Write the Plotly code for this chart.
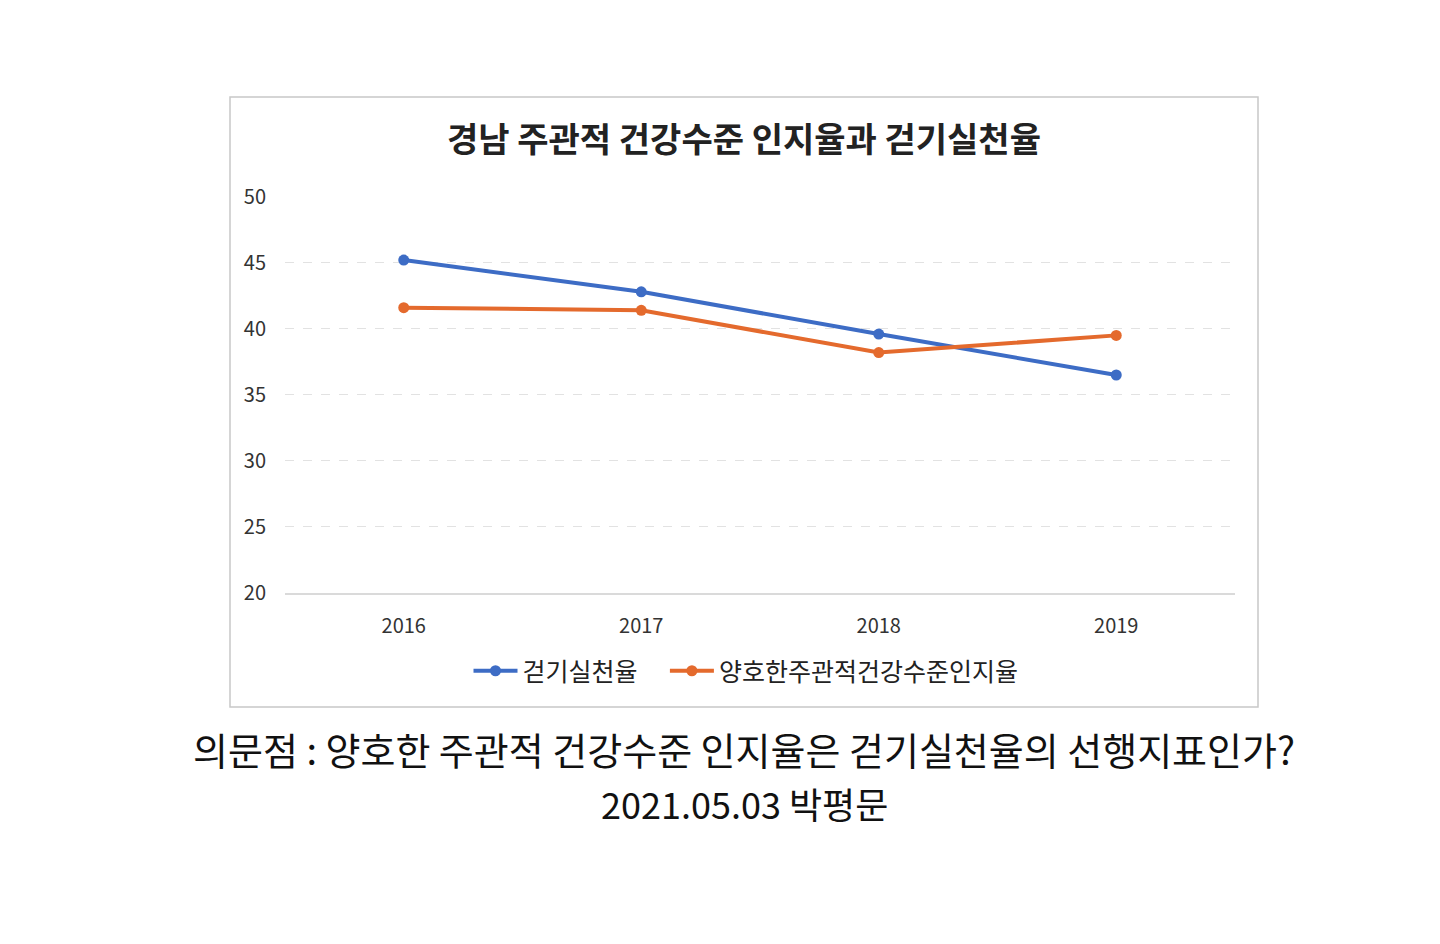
import plotly.graph_objects as go

# 경남 지표 (단위: %)
years = ["2016", "2017", "2018", "2019"]
walking_rate = [45.2, 42.8, 39.6, 36.5]
health_awareness = [41.6, 41.4, 38.2, 39.5]
y_ticks = [20, 25, 30, 35, 40, 45, 50]

title_text = "경남 주관적 건강수준 인지율과 걷기실천율"
caption_lines = ["의문점 : 양호한 주관적 건강수준 인지율은 걷기실천율의 선행지표인가?",
                 "2021.05.03 박평문"]

W, H = 1440, 944
off = 8  # page body margin
# plot area in page pixels
pl, pr, pt, pb = 285, 1235, 196, 593

def px(x):
    return (x - pl) / (pr - pl)

def py(y):
    return (pb - y) / (pb - pt)

font_kr = "Noto Sans CJK KR, Noto Sans, sans-serif"
gap = "\u00a0" * 4  # extra room between legend items

fig = go.Figure()
fig.add_trace(go.Scatter(x=years, y=walking_rate, name="걷기실천율" + gap,
                         mode="lines+markers",
                         line=dict(color="#3D6CC5", width=4),
                         marker=dict(size=11, color="#3D6CC5")))
fig.add_trace(go.Scatter(x=years, y=health_awareness, name="양호한주관적건강수준인지율",
                         mode="lines+markers",
                         line=dict(color="#E46A2D", width=4),
                         marker=dict(size=11, color="#E46A2D")))

fig.update_layout(
    width=W, height=H,
    margin=dict(l=pl - off, r=W - (pr - off), t=pt - off, b=H - (pb - off)),
    paper_bgcolor="white", plot_bgcolor="white",
    font=dict(family=font_kr, color="#333333"),
    showlegend=True,
    legend=dict(orientation="h", x=px(746), xanchor="center",
                y=py(671), yanchor="middle",
                font=dict(size=25, color="#222222"),
                itemwidth=44),
)
fig.update_xaxes(type="category", range=[-0.5, 3.5], showgrid=False,
                 showline=True, linecolor="#DADADA", linewidth=1.5,
                 zeroline=False, ticks="",
                 ticklabelstandoff=14,
                 tickfont=dict(size=20, color="#333333"))
fig.update_yaxes(range=[20, 50.05], tickvals=y_ticks, showgrid=True,
                 gridcolor="#E2E2E2", griddash="dash", gridwidth=1,
                 zeroline=False, showline=False, ticks="",
                 ticklabelstandoff=18,
                 tickfont=dict(size=20, color="#333333"))

# chart frame
fig.add_shape(type="rect", xref="paper", yref="paper",
              x0=px(230), x1=px(1258), y0=py(707), y1=py(97),
              line=dict(color="#C8C8C8", width=1.5), layer="below")

fig.add_annotation(text="<b>" + title_text + "</b>", xref="paper", yref="paper",
                   x=px(744), y=py(137), xanchor="center", yanchor="middle",
                   showarrow=False, font=dict(size=34, color="#222222", family=font_kr))

caption_sizes = [38, 36]
caption_y = [748, 803]
for line, size, yy in zip(caption_lines, caption_sizes, caption_y):
    fig.add_annotation(text=line, xref="paper", yref="paper",
                       x=px(744), y=py(yy), xanchor="center", yanchor="middle",
                       showarrow=False,
                       font=dict(size=size, color="#111111", family=font_kr))

fig.write_html("out.html")
